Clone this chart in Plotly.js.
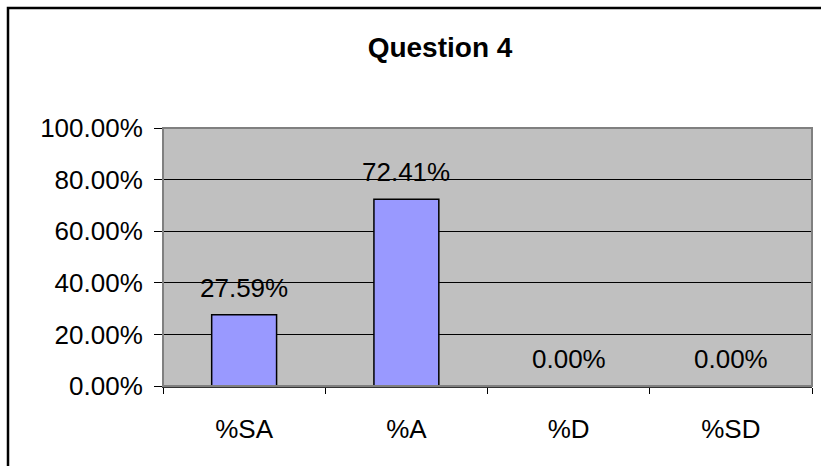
<!DOCTYPE html>
<html>
<head>
<meta charset="utf-8">
<script src="https://cdn.plot.ly/plotly-3.0.1.min.js"></script>
<style>html,body{margin:0;padding:0;background:#fff;}#chart{width:821px;height:466px;}</style>
</head>
<body>
<div id="chart"></div>
<script>
var categories = ["%SA", "%A", "%D", "%SD"];
var values = [0.2759, 0.7241, 0.0, 0.0];
var labels = ["27.59%", "72.41%", "0.00%", "0.00%"];
var titleText = "Question 4";

var font = "Liberation Sans, Arial, sans-serif";

var trace = {
  type: "bar",
  x: categories,
  y: values,
  width: 0.4,
  marker: {color: "#9999FF", line: {color: "#000000", width: 1.5}},
  hoverinfo: "none"
};

var annotations = categories.map(function (c, i) {
  return {
    x: c, y: values[i], xref: "x", yref: "y",
    text: labels[i], showarrow: false,
    yanchor: "middle", yshift: 27,
    font: {family: font, size: 26, color: "#000"}
  };
});

var layout = {
  width: 821, height: 466,
  margin: {l: 163, r: 9, t: 128, b: 80, pad: 0},
  paper_bgcolor: "#ffffff",
  plot_bgcolor: "#C0C0C0",
  showlegend: false,
  title: {
    text: titleText,
    font: {family: font, size: 28, color: "#000", weight: "bold"},
    xref: "container", yref: "container",
    x: 440 / 821, y: 1 - 47 / 466, xanchor: "center", yanchor: "middle"
  },
  xaxis: {
    type: "category",
    tickson: "boundaries",
    ticks: "outside", ticklen: 6, tickcolor: "#000", tickwidth: 1,
    showline: true, linecolor: "#333", linewidth: 2,
    showgrid: false, zeroline: false,
    tickfont: {family: font, size: 26, color: "#000"},
    ticklabelstandoff: 19,
    fixedrange: true
  },
  yaxis: {
    range: [0, 1],
    dtick: 0.2, tick0: 0,
    tickformat: ".2%",
    ticks: "outside", ticklen: 8, tickcolor: "#000", tickwidth: 1,
    showline: true, linecolor: "#333", linewidth: 1,
    showgrid: true, gridcolor: "#000", gridwidth: 1,
    zeroline: false,
    tickfont: {family: font, size: 26, color: "#000"},
    ticklabelstandoff: 6,
    fixedrange: true
  },
  annotations: annotations,
  shapes: [
    {type: "rect", xref: "paper", yref: "paper", x0: 0, x1: 1, y0: 0, y1: 1,
     line: {color: "#808080", width: 2}, layer: "above"},
    {type: "rect", xref: "paper", yref: "paper",
     x0: (8 - 163) / 649, x1: (830 - 163) / 649,
     y0: -(480 - 386) / 258, y1: 1 + (128 - 8) / 258,
     line: {color: "#000", width: 2.5}}
  ]
};

Plotly.newPlot("chart", [trace], layout, {displayModeBar: false, staticPlot: true});
</script>
</body>
</html>
